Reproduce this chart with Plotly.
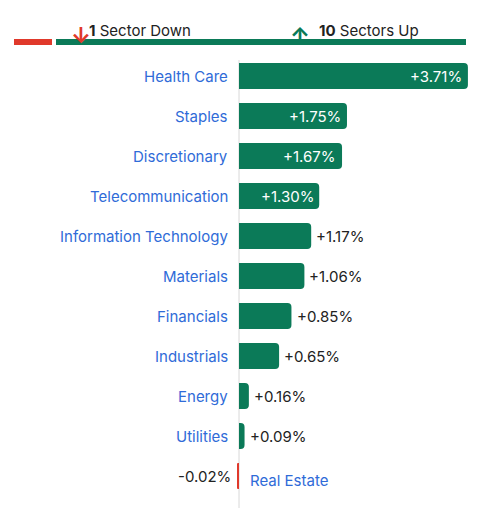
import plotly.graph_objects as go

sectors = ["Health Care", "Staples", "Discretionary", "Telecommunication",
           "Information Technology", "Materials", "Financials", "Industrials",
           "Energy", "Utilities", "Real Estate"]
changes = [3.71, 1.75, 1.67, 1.30, 1.17, 1.06, 0.85, 0.65, 0.16, 0.09, -0.02]
n_down = 1
n_up = 10

GREEN = "#0b7a58"
RED = "#e0392b"
BLUE = "#2f6bd8"
W, H = 495, 508
OFF = 8  # page body margin
FW, FH = W - OFF, H - OFF
FONT = "Inter, Roboto, sans-serif"
ZERO_PX, SCALE = 239, 61.7
ROW0, STEP = 76, 40


def px(x):
    return (x - OFF) / FW


def py(y):
    return 1 - (y - OFF) / FH


rows = list(range(len(sectors)))
colors = [GREEN if v >= 0 else RED for v in changes]

fig = go.Figure()
fig.add_trace(go.Bar(
    x=changes, y=rows, orientation="h",
    marker=dict(color=colors, cornerradius=4, line_width=0),
    width=0.65, hoverinfo="skip",
))

ann = []
for i, (s, v) in enumerate(zip(sectors, changes)):
    label = f"{v:+.2f}%"
    if v >= 0:
        ann.append(dict(x=-0.14, y=i, text=s, xanchor="right", showarrow=False,
                        font=dict(color=BLUE, size=15, family=FONT)))
        if v >= 1.25:
            ann.append(dict(x=v - 0.06, y=i, text=label, xanchor="right", showarrow=False,
                            font=dict(color="white", size=15, family=FONT)))
        else:
            ann.append(dict(x=v + 0.05, y=i, text=label, xanchor="left", showarrow=False,
                            font=dict(color="#222", size=15, family=FONT)))
    else:
        ann.append(dict(x=0.15, y=i + 0.1, text=s, xanchor="left", showarrow=False,
                        font=dict(color=BLUE, size=15, family=FONT)))
        ann.append(dict(x=-0.1, y=i, text=label, xanchor="right", showarrow=False,
                        font=dict(color="#222", size=15, family=FONT)))

# header
ann.append(dict(xref="paper", yref="paper", x=px(69), y=py(20), showarrow=False,
                text="<b>↓</b>", font=dict(color=RED, size=22, family=FONT)))
ann.append(dict(xref="paper", yref="paper", x=px(87), y=py(19), showarrow=False,
                xanchor="left", text=f"<b>{n_down}</b> Sector Down",
                font=dict(color="#222", size=15, family=FONT)))
ann.append(dict(xref="paper", yref="paper", x=px(300), y=py(20), showarrow=False,
                text="<b>↑</b>", font=dict(color=GREEN, size=22, family=FONT)))
ann.append(dict(xref="paper", yref="paper", x=px(317), y=py(19), showarrow=False,
                xanchor="left", text=f"<b>{n_up}</b> Sectors Up",
                font=dict(color="#222", size=15, family=FONT)))

shapes = [
    dict(type="line", xref="paper", yref="paper", x0=px(14), x1=px(52),
         y0=py(42), y1=py(42), line=dict(color=RED, width=6)),
    dict(type="line", xref="paper", yref="paper", x0=px(56), x1=px(466),
         y0=py(42), y1=py(42), line=dict(color=GREEN, width=6)),
    dict(type="line", xref="x", yref="paper", x0=0, x1=0, y0=0, y1=py(60),
         line=dict(color="#d8d8d8", width=1), layer="below"),
]

fig.update_layout(
    width=FW, height=FH, margin=dict(l=0, r=0, t=0, b=0),
    paper_bgcolor="white", plot_bgcolor="white", showlegend=False,
    xaxis=dict(range=[(OFF - ZERO_PX) / SCALE, (W - ZERO_PX) / SCALE],
               visible=False, fixedrange=True),
    yaxis=dict(range=[(H - ROW0) / STEP, (OFF - ROW0) / STEP],
               visible=False, fixedrange=True),
    annotations=ann, shapes=shapes,
)
fig.write_html("out.html")
